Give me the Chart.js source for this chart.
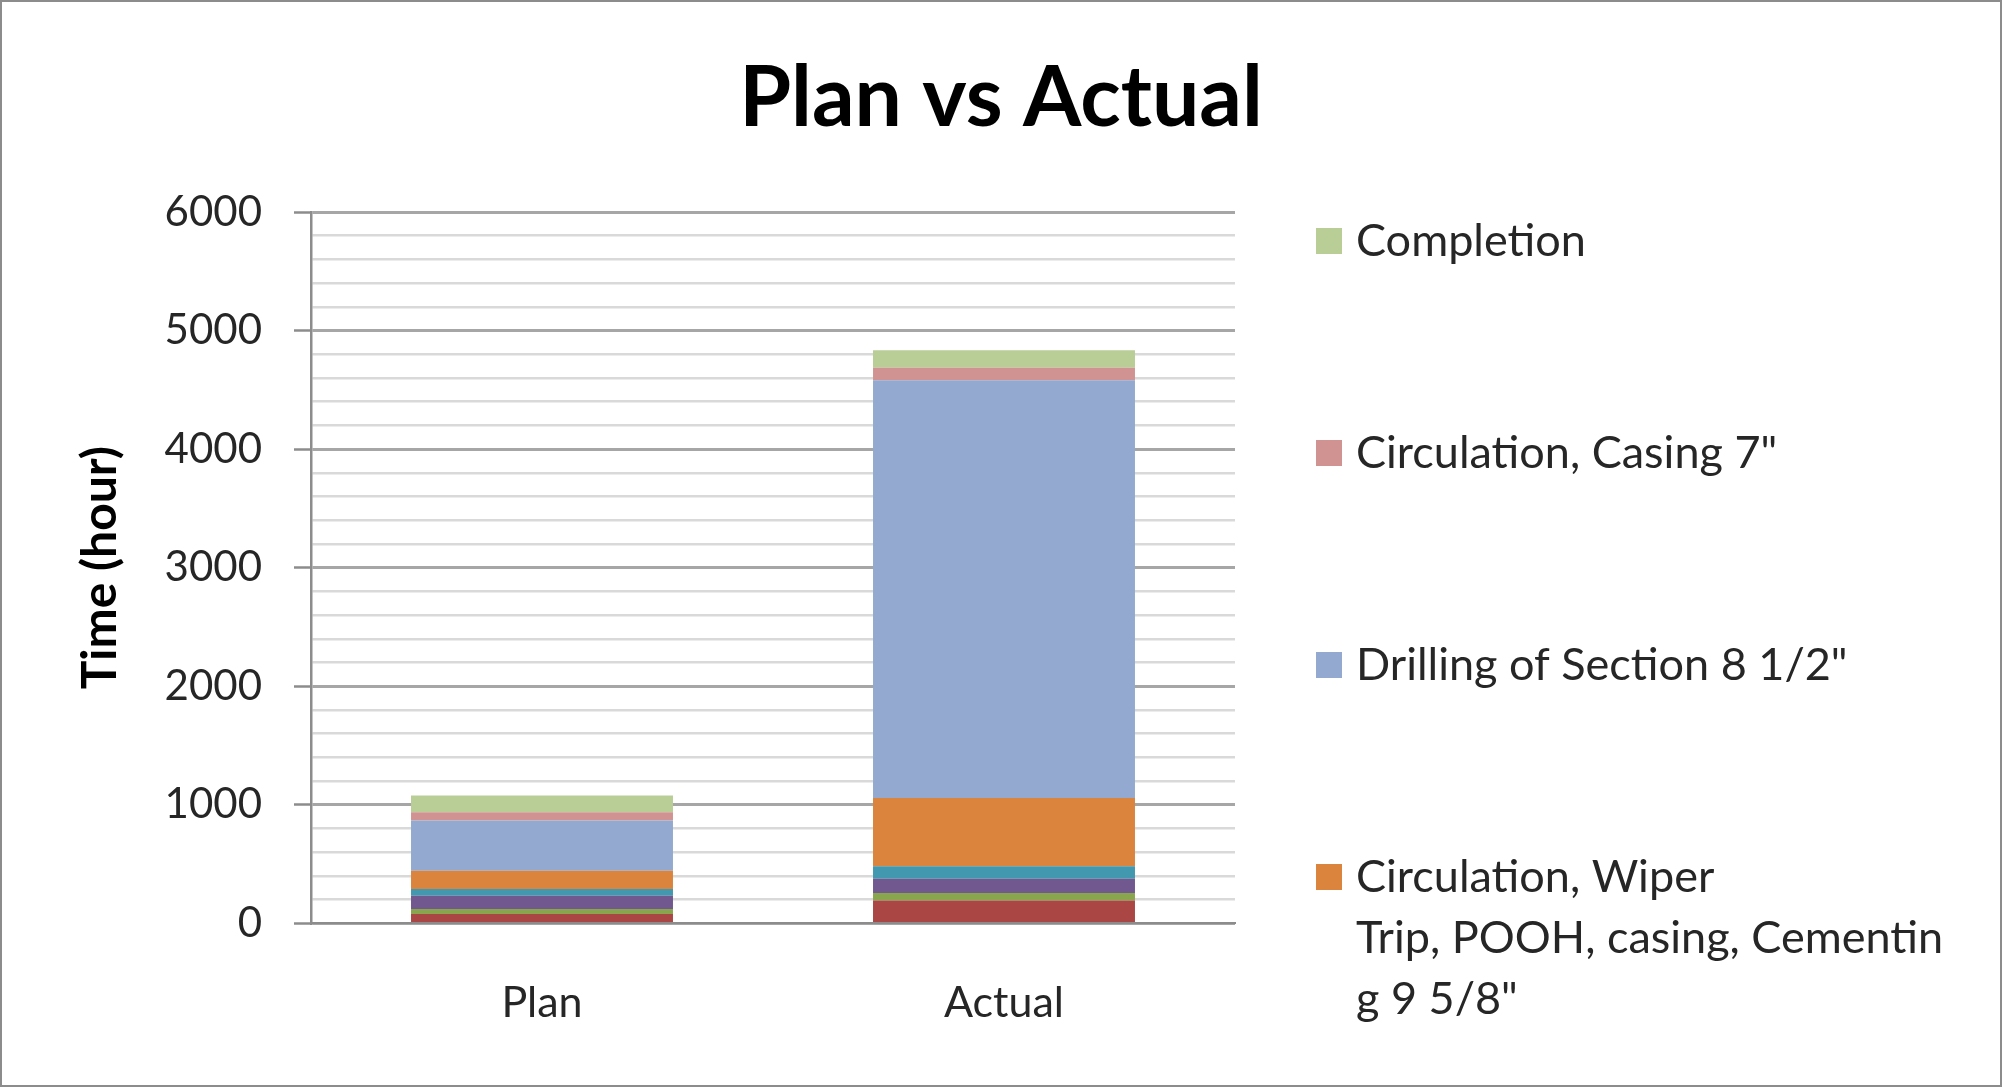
<!DOCTYPE html>
<html>
<head>
<meta charset="utf-8">
<script src="https://cdn.jsdelivr.net/npm/chart.js@4/dist/chart.umd.min.js"></script>
<style>
  html, body { margin: 0; padding: 0; background: #fff; }
  #wrap { width: 2002px; height: 1087px; position: relative; }
</style>
</head>
<body>
<div id="wrap"><canvas id="chart" width="2002" height="1087"></canvas></div>
<script>
// Plan vs Actual well time breakdown, stacked bottom to top (hours).
const CATEGORIES = ["Plan", "Actual"];
const SERIES = [
  "Rig Move",
  "Drilling of Section 17 1/2\"",
  "Circulation, Casing 13 3/8\"",
  "Drilling of Section 12 1/4\"",
  "Wiper Trip, POOH 12 1/4\"",
  "Circulation, Wiper Trip, POOH, casing, Cementing 9 5/8\"",
  "Drilling of Section 8 1/2\"",
  "Circulation, Casing 7\"",
  "Completion",
];
const PLAN   = [0, 80, 42, 112, 57, 154, 422, 71, 140];
const ACTUAL = [12, 182, 62, 121, 104, 576, 3525, 104, 149];
const COLORS = ["#4572a7", "#aa4643", "#89a54e", "#71588f", "#4198af",
                "#db843d", "#93a9cf", "#d19392", "#b9cd96"];
const Y_TICKS = [0, 1000, 2000, 3000, 4000, 5000, 6000];

// legend only lists the top four series; long name wraps like the original box
const LEGEND_ITEMS = [
  { series: 8, lines: ["Completion"] },
  { series: 7, lines: ["Circulation, Casing 7\""] },
  { series: 6, lines: ["Drilling of Section 8 1/2\""] },
  { series: 5, lines: ["Circulation, Wiper", "Trip, POOH, casing, Cementin", "g 9 5/8\""] },
];

const FONT = "Lato, 'Open Sans', sans-serif";
const TEXT = "#262626";

const frameAndLegend = {
  id: "frameAndLegend",
  afterDraw(chart) {
    const ctx = chart.ctx;
    ctx.save();
    // outer frame
    ctx.strokeStyle = "#8c8c8c";
    ctx.lineWidth = 2;
    ctx.strokeRect(1, 1, chart.width - 2, chart.height - 2);
    // title, centred on the whole canvas
    ctx.fillStyle = "#000";
    ctx.font = "bold 84px " + FONT;
    ctx.textAlign = "center";
    ctx.textBaseline = "alphabetic";
    ctx.fillText("Plan vs Actual", chart.width / 2, 126);
    // legend
    ctx.font = "45px " + FONT;
    ctx.textAlign = "left";
    ctx.textBaseline = "middle";
    let y = 241;
    for (const item of LEGEND_ITEMS) {
      ctx.fillStyle = chart.data.datasets[item.series].backgroundColor;
      ctx.fillRect(1316, y - 13, 26, 26);
      ctx.fillStyle = TEXT;
      item.lines.forEach((ln, i) => ctx.fillText(ln, 1356, y + i * 61));
      y += 212;
    }
    ctx.restore();
  },
};

new Chart(document.getElementById("chart"), {
  type: "bar",
  data: {
    labels: CATEGORIES,
    datasets: SERIES.map((name, i) => ({
      label: name,
      data: [PLAN[i], ACTUAL[i]],
      backgroundColor: COLORS[i],
      borderWidth: 0,
      categoryPercentage: 1,
      barPercentage: 0.567,
    })),
  },
  options: {
    responsive: false,
    animation: false,
    devicePixelRatio: 1,
    layout: { padding: { top: 212, right: 767, bottom: 12, left: 0 } },
    plugins: { legend: { display: false }, title: { display: false }, tooltip: { enabled: false } },
    scales: {
      x: {
        stacked: true,
        grid: { display: false },
        border: { display: true, color: "#8c8c8c", width: 2 },
        ticks: { color: TEXT, font: { family: FONT, size: 43 }, padding: 46 },
      },
      y: {
        stacked: true,
        min: 0,
        max: 6000,
        afterFit(scale) { scale.width = 311; },
        afterBuildTicks(scale) {
          const t = [];
          for (let v = 0; v <= 6000; v += 200) t.push({ value: v });
          scale.ticks = t;
        },
        grid: {
          color: ctx => (Y_TICKS.includes(ctx.tick.value) ? "#a6a6a6" : "#d9d9d9"),
          lineWidth: ctx => (Y_TICKS.includes(ctx.tick.value) ? 3 : 2.5),
          tickColor: ctx => (Y_TICKS.includes(ctx.tick.value) ? "#8c8c8c" : "rgba(0,0,0,0)"),
          tickLength: 17,
          tickWidth: 2.5,
        },
        border: { display: true, color: "#8c8c8c", width: 2.5 },
        ticks: {
          autoSkip: false,
          color: TEXT,
          font: { family: FONT, size: 42 },
          padding: 32,
          callback: v => (Y_TICKS.includes(v) ? String(v) : ""),
        },
        title: {
          display: true,
          text: "Time (hour)",
          color: "#000",
          font: { family: FONT, size: 48, weight: "bold" },
          padding: { top: 72 },
        },
      },
    },
  },
  plugins: [frameAndLegend],
});
</script>
</body>
</html>
